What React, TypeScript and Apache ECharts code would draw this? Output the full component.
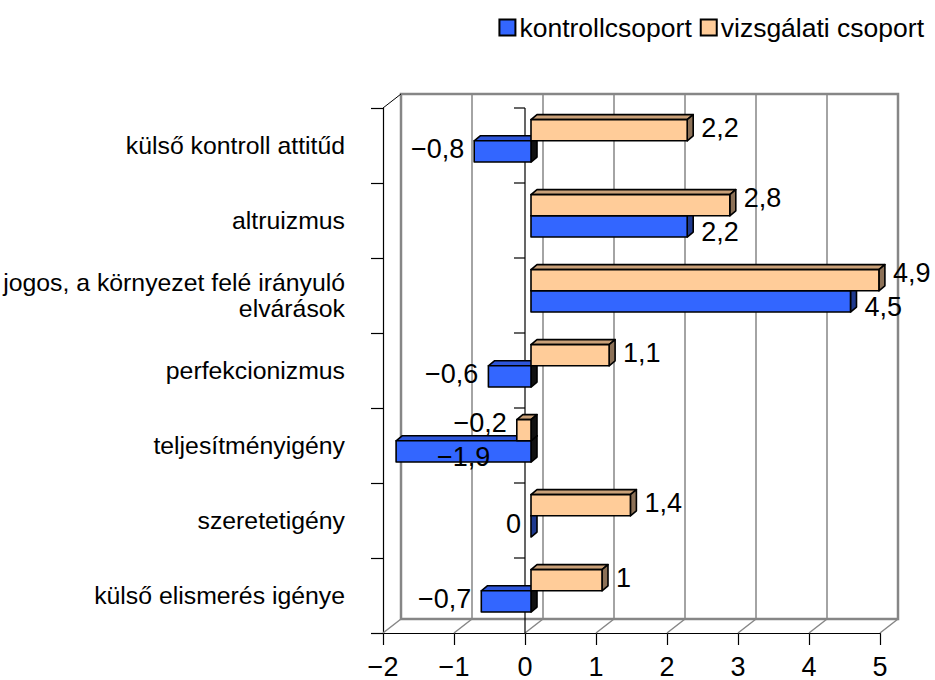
import React, { useEffect, useRef } from 'react';
import * as echarts from 'echarts';

const categories = [
  'külső kontroll attitűd',
  'altruizmus',
  'jogos, a környezet felé irányuló\nelvárások',
  'perfekcionizmus',
  'teljesítményigény',
  'szeretetigény',
  'külső elismerés igénye',
];
const kontroll = [-0.8, 2.2, 4.5, -0.6, -1.9, 0, -0.7];
const vizsgalati = [2.2, 2.8, 4.9, 1.1, -0.2, 1.4, 1];
const xTicks = [-2, -1, 0, 1, 2, 3, 4, 5];
const seriesNames = ['kontrollcsoport', 'vizsgálati csoport'];

const FONT = '"Liberation Sans", Arial, Helvetica, sans-serif';
const WALL_DEPTH = [18, -14];
const BAR_OFF = [6, -4.7];
const BAR_DEPTH = [6, -5];
const LABEL_SIZE = 27;

const BLUE = { front: '#3366FF', top: '#2E56DA', side: '#1F3A8F' };
const ORANGE = { front: '#FFCC99', top: '#C9A078', side: '#8C7157' };

const fmt = (v: number) => (v < 0 ? '\u2212' : '') + String(Math.abs(v)).replace('.', ',');

let measureCtx: CanvasRenderingContext2D | null = null;
function textWidth(s: string, size: number) {
  if (!measureCtx) measureCtx = document.createElement('canvas').getContext('2d');
  if (!measureCtx) return s.length * size * 0.55;
  measureCtx.font = `${size}px ${FONT}`;
  return measureCtx.measureText(s).width;
}

const renderWall = (params: any, api: any) => {
  const cs = params.coordSys;
  const x0 = cs.x, y0 = cs.y, w = cs.width, h = cs.height;
  const [dx, dy] = WALL_DEPTH;
  const gray = '#868686';
  const children: any[] = [];
  children.push({
    type: 'rect',
    shape: { x: x0 + dx, y: y0 + dy, width: w, height: h },
    style: { fill: '#fff', stroke: gray, lineWidth: 2.5 },
  });
  xTicks.forEach((t, k) => {
    const px = api.coord([t, 0])[0];
    if (k > 0 && k < xTicks.length - 1) {
      children.push({
        type: 'line',
        shape: { x1: px + dx, y1: y0 + dy, x2: px + dx, y2: y0 + h + dy },
        style: { stroke: gray, lineWidth: 1.5 },
      });
    }
    children.push({
      type: 'line',
      shape: { x1: px, y1: y0 + h, x2: px + dx, y2: y0 + h + dy },
      style: { stroke: gray, lineWidth: 1.5 },
    });
  });
  children.push({
    type: 'line',
    shape: { x1: x0, y1: y0, x2: x0 + dx, y2: y0 + dy },
    style: { stroke: '#000', lineWidth: 1 },
  });
  const zx = api.coord([0, 0])[0];
  children.push({
    type: 'line',
    shape: { x1: zx, y1: y0, x2: zx, y2: y0 + h },
    style: { stroke: '#000', lineWidth: 1.2 },
  });
  const n = categories.length;
  for (let k = 0; k < n; k++) {
    const yy = y0 + (k * h) / n;
    children.push({
      type: 'line',
      shape: { x1: zx - 11, y1: yy, x2: zx, y2: yy },
      style: { stroke: '#000', lineWidth: 1.2 },
    });
  }
  return { type: 'group', children };
};

function makeBarRender(own: number[], other: number[], isTop: boolean, col: any, zBase: number) {
  return (params: any, api: any) => {
    const v = api.value(0);
    const i = api.value(1);
    const cs = params.coordSys;
    const c0 = api.coord([0, i]);
    const c1 = api.coord([v, i]);
    const band = api.size([0, 1])[1];
    const h = band * 0.283;
    const yTop = (isTop ? c0[1] - h : c0[1]) + BAR_OFF[1];
    const yb = yTop + h;
    const xa = Math.min(c0[0], c1[0]) + BAR_OFF[0];
    const xb = Math.max(c0[0], c1[0]) + BAR_OFF[0];
    const [dx, dy] = BAR_DEPTH;
    const neg = v < 0;
    const border = { stroke: '#000', lineWidth: 1.6, lineJoin: 'round' };
    const children: any[] = [
      {
        type: 'polygon',
        z2: zBase,
        shape: { points: [[xa, yTop], [xa + dx, yTop + dy], [xb + dx, yTop + dy], [xb, yTop]] },
        style: { fill: col.top, ...border },
      },
      {
        type: 'polygon',
        z2: zBase,
        shape: { points: [[xb, yTop], [xb + dx, yTop + dy], [xb + dx, yb + dy], [xb, yb]] },
        style: { fill: neg ? '#111' : col.side, ...border },
      },
    ];
    if (xb - xa > 0.5) {
      children.push({
        type: 'polygon',
        z2: zBase,
        shape: { points: [[xa, yTop], [xb, yTop], [xb, yb], [xa, yb]] },
        style: { fill: col.front, ...border },
      });
    }
    // label
    const txt = fmt(v);
    const tw = textWidth(txt, LABEL_SIZE);
    const ov = other[i];
    const sameSide = (v > 0) === (ov > 0);
    let ly = (yTop + dy + yb) / 2;
    if (sameSide) ly += isTop ? -5 : 8;
    let lx: number;
    let align = 'left';
    if (v > 0) {
      lx = xb + dx + 8;
    } else {
      lx = xa - 10;
      align = 'right';
      if (lx - tw < cs.x) {
        lx = (xa + xb) / 2;
        align = 'center';
      }
    }
    children.push({
      type: 'text',
      z2: 50,
      style: {
        text: txt,
        x: lx,
        y: ly,
        fill: '#000',
        fontSize: LABEL_SIZE,
        fontFamily: FONT,
        align,
        verticalAlign: 'middle',
      },
    });
    return { type: 'group', children };
  };
}

export default function App() {
  const ref = useRef<HTMLDivElement>(null);
  useEffect(() => {
    if (!ref.current) return;
    const chart = echarts.init(ref.current, undefined, { renderer: 'svg' });
    chart.setOption({
      animation: false,
      backgroundColor: '#fff',
      textStyle: { fontFamily: FONT },
      legend: {
        data: seriesNames,
        top: 9,
        right: 6,
        icon: 'rect',
        itemWidth: 16,
        itemHeight: 16,
        itemGap: 8,
        itemStyle: { borderColor: '#000', borderWidth: 2 },
        textStyle: { fontSize: 26.5, color: '#000', fontFamily: FONT, padding: [0, 0, 0, -1] },
      },
      grid: { left: 383, top: 108, width: 497, height: 525, containLabel: false },
      xAxis: {
        type: 'value',
        min: -2,
        max: 5,
        interval: 1,
        axisLine: { show: true, onZero: false, lineStyle: { color: '#000', width: 1.2 } },
        axisTick: { show: true, length: 12, lineStyle: { color: '#000', width: 1.2 } },
        splitLine: { show: false },
        axisLabel: {
          fontSize: 27,
          color: '#000',
          fontFamily: FONT,
          margin: 20,
          formatter: (v: number) => fmt(v),
        },
      },
      yAxis: {
        type: 'category',
        data: categories,
        inverse: true,
        axisLine: { show: true, onZero: false, lineStyle: { color: '#000', width: 1.2 } },
        axisTick: { show: true, length: 12, lineStyle: { color: '#000', width: 1.2 } },
        splitLine: { show: false },
        axisLabel: {
          fontSize: 24.8,
          color: '#000',
          fontFamily: FONT,
          margin: 38,
          lineHeight: 26,
          align: 'right',
          padding: [8, 0, 0, 0],
        },
      },
      series: [
        {
          name: 'wall',
          type: 'custom',
          z: 1,
          silent: true,
          renderItem: renderWall,
          data: [[0, 0]],
          encode: { x: 0, y: 1 },
        },
        {
          name: seriesNames[0],
          type: 'custom',
          z: 3,
          itemStyle: { color: BLUE.front, borderColor: '#000', borderWidth: 2 },
          renderItem: makeBarRender(kontroll, vizsgalati, false, BLUE, 1),
          data: kontroll.map((v, i) => [v, i]),
          encode: { x: 0, y: 1 },
        },
        {
          name: seriesNames[1],
          type: 'custom',
          z: 3,
          itemStyle: { color: ORANGE.front, borderColor: '#000', borderWidth: 2 },
          renderItem: makeBarRender(vizsgalati, kontroll, true, ORANGE, 2),
          data: vizsgalati.map((v, i) => [v, i]),
          encode: { x: 0, y: 1 },
        },
      ],
    });
    return () => chart.dispose();
  }, []);
  return (
    <div
      ref={ref}
      style={{ position: 'absolute', left: 0, top: 0, width: 935, height: 680, background: '#fff' }}
    />
  );
}
